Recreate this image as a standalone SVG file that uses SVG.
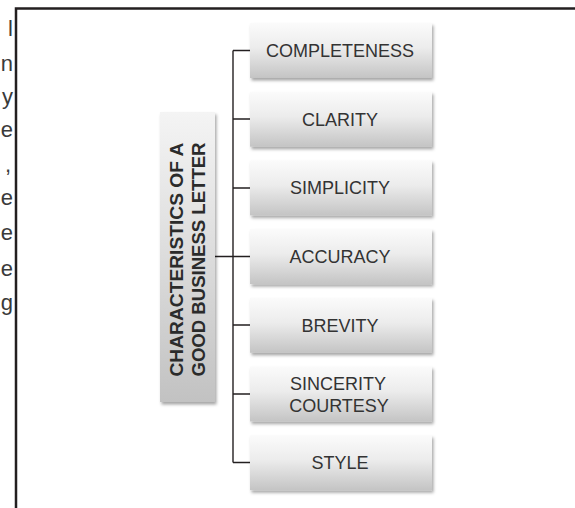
<svg xmlns="http://www.w3.org/2000/svg" width="575" height="508" viewBox="0 0 575 508">
  <defs>
    <linearGradient id="boxFill" x1="0" y1="0" x2="0" y2="1">
      <stop offset="0" stop-color="#fbfbfb"/>
      <stop offset="0.45" stop-color="#ececec"/>
      <stop offset="1" stop-color="#c4c4c4"/>
    </linearGradient>
    <linearGradient id="titleFill" x1="0" y1="0" x2="0" y2="1">
      <stop offset="0" stop-color="#f4f4f4"/>
      <stop offset="0.5" stop-color="#dcdcdc"/>
      <stop offset="1" stop-color="#c2c2c2"/>
    </linearGradient>
    <filter id="shadow" x="-10%" y="-10%" width="125%" height="130%">
      <feDropShadow dx="1.5" dy="2.5" stdDeviation="1.6" flood-color="#000" flood-opacity="0.35"/>
    </filter>
  </defs>
  <style>
    .frame { stroke: #231f20; stroke-width: 2.5; fill: none; }
    .edge { stroke: #231f20; stroke-width: 1.4; fill: none; }
    .box { fill: url(#boxFill); filter: url(#shadow); }
    .title-box { fill: url(#titleFill); filter: url(#shadow); }
    .label { font-family: "Liberation Sans", Arial, sans-serif; font-size: 18px; fill: #333; text-anchor: middle; }
    .title { font-family: "Liberation Sans", Arial, sans-serif; font-size: 19px; font-weight: bold; fill: #2b2b2b; text-anchor: middle; }
    .side { font-family: "Liberation Sans", Arial, sans-serif; font-size: 22px; fill: #3a3a3a; text-anchor: end; }
  </style>

  <rect width="575" height="508" fill="#ffffff"/>

  <!-- tail ends of the neighbouring paragraph -->
  <g id="side-text">
    <text class="side" x="13" y="36">l</text>
    <text class="side" x="13" y="71">n</text>
    <text class="side" x="13" y="104">y</text>
    <text class="side" x="13" y="137">e</text>
    <text class="side" x="11" y="172">,</text>
    <text class="side" x="13" y="205">e</text>
    <text class="side" x="13" y="240">e</text>
    <text class="side" x="13" y="276">e</text>
    <text class="side" x="13" y="310">g</text>
  </g>

  <!-- figure frame -->
  <path class="frame" d="M16 508 V8.5 H575"/>

  <!-- connectors -->
  <g id="connectors">
    <path class="edge" d="M233 50.5 V462.5"/>
    <path class="edge" d="M233 50.5 H250 M233 119 H250 M233 188 H250 M233 325 H250 M233 394 H250 M233 462.5 H250"/>
    <path class="edge" d="M215 256.5 H250" stroke-width="1.8"/>
  </g>

  <g id="title">
    <rect class="title-box" x="160" y="112" width="55" height="290"/>
    <text class="title" transform="rotate(-90)" x="-259.5" y="183" textLength="234" lengthAdjust="spacingAndGlyphs">CHARACTERISTICS OF A</text>
    <text class="title" transform="rotate(-90)" x="-259.5" y="205" textLength="234" lengthAdjust="spacingAndGlyphs">GOOD BUSINESS LETTER</text>
  </g>

  <g id="completeness">
    <rect class="box" x="250" y="23" width="182" height="55"/>
    <text class="label" x="340" y="57">COMPLETENESS</text>
  </g>
  <g id="clarity">
    <rect class="box" x="250" y="91.7" width="182" height="55"/>
    <text class="label" x="340" y="125.7">CLARITY</text>
  </g>
  <g id="simplicity">
    <rect class="box" x="250" y="160.4" width="182" height="55"/>
    <text class="label" x="340" y="194.4">SIMPLICITY</text>
  </g>
  <g id="accuracy">
    <rect class="box" x="250" y="229.1" width="182" height="55"/>
    <text class="label" x="340" y="263">ACCURACY</text>
  </g>
  <g id="brevity">
    <rect class="box" x="250" y="297.8" width="182" height="55"/>
    <text class="label" x="340" y="331.8">BREVITY</text>
  </g>
  <g id="sincerity-courtesy">
    <rect class="box" x="250" y="366.5" width="182" height="55"/>
    <text class="label" x="338" y="390">SINCERITY</text>
    <text class="label" x="339" y="412">COURTESY</text>
  </g>
  <g id="style">
    <rect class="box" x="250" y="435.2" width="182" height="55"/>
    <text class="label" x="340" y="469">STYLE</text>
  </g>
</svg>
